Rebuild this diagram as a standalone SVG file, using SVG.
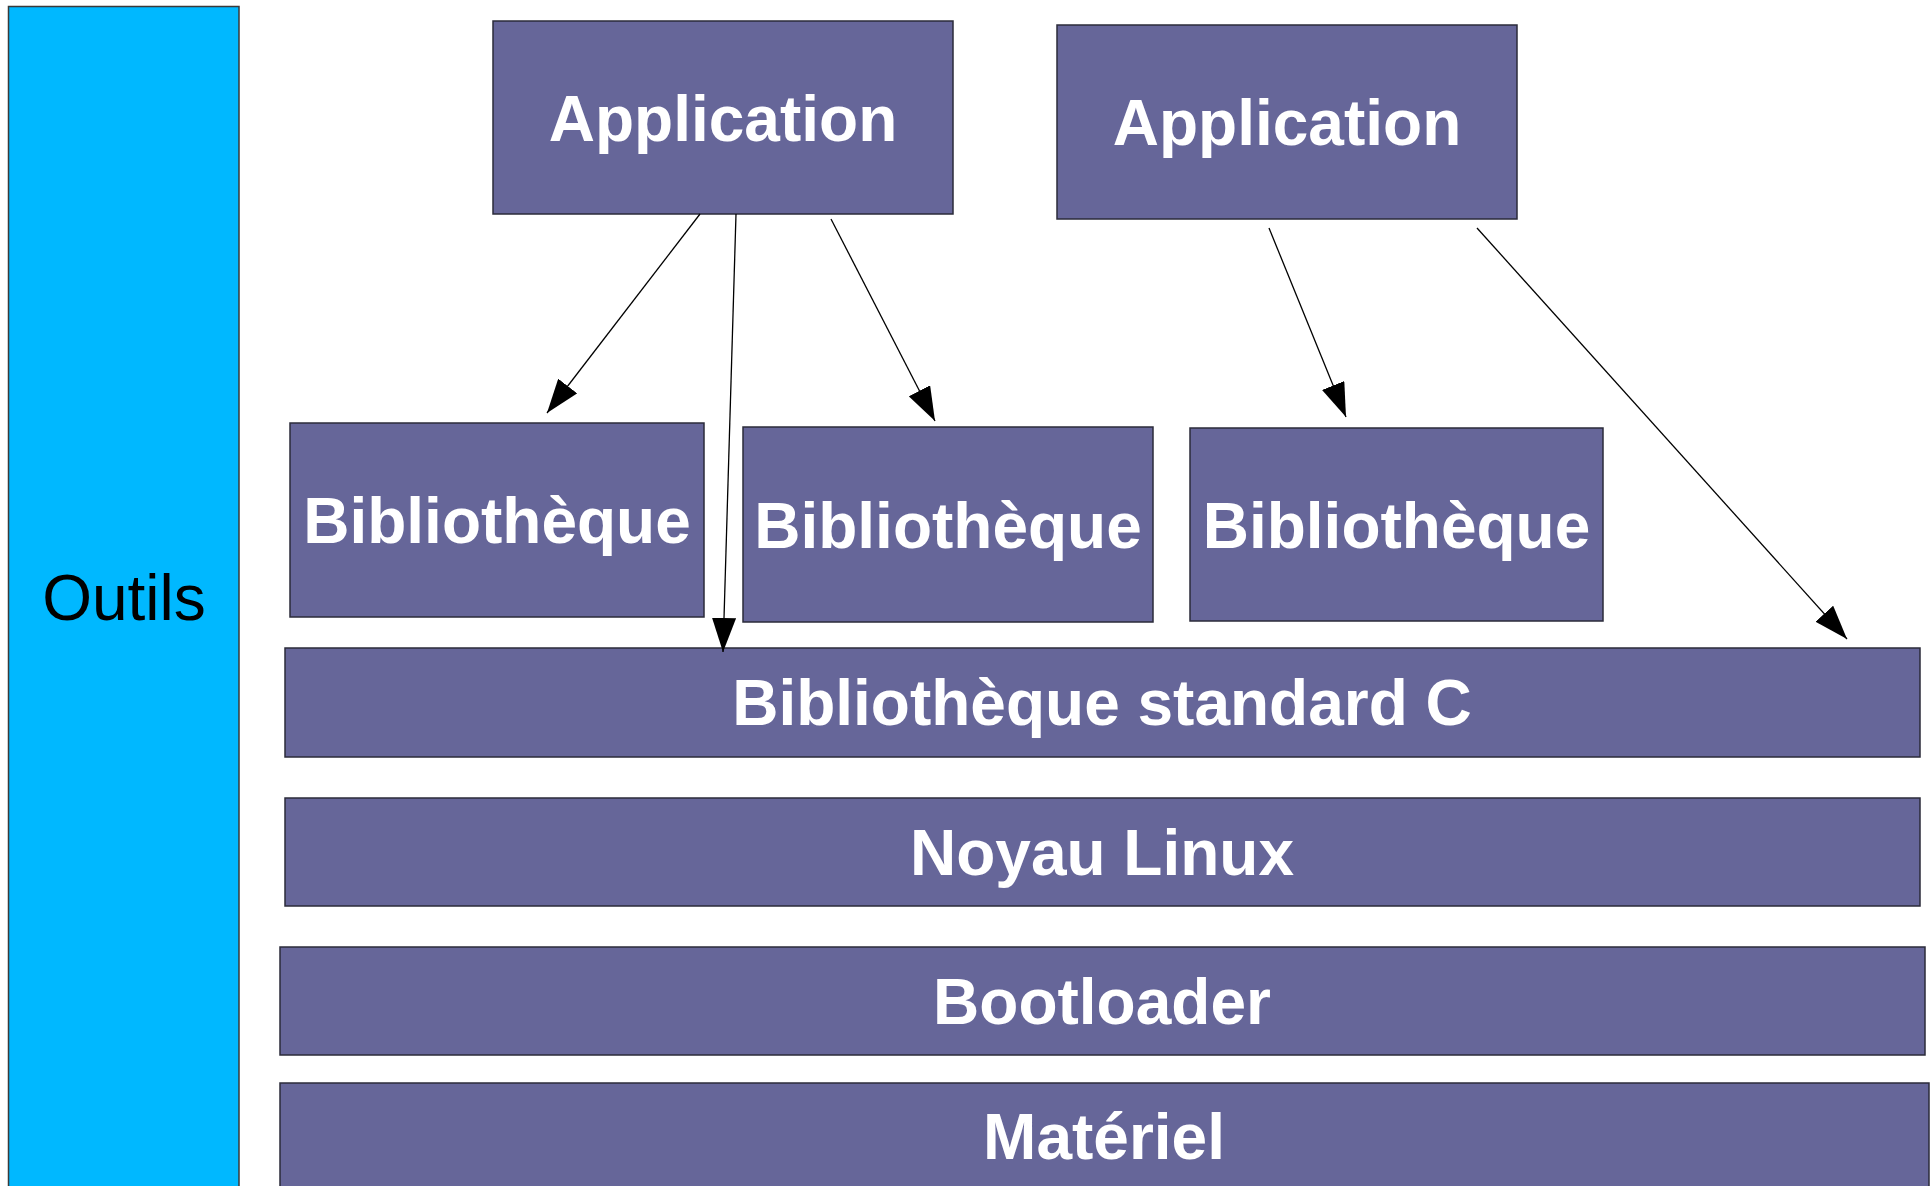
<svg xmlns="http://www.w3.org/2000/svg" width="1932" height="1186" viewBox="0 0 1932 1186">
<style>
.box{fill:#666699;stroke:#2b2b3a;stroke-width:1.5}
.tool{fill:#00b8ff;stroke:#3a3a3a;stroke-width:1.5}
.lbl{font-family:"Liberation Sans",Arial,sans-serif;font-weight:bold;font-size:64px;fill:#ffffff;text-anchor:middle}
.tlbl{font-family:"Liberation Sans",Arial,sans-serif;font-size:64px;fill:#000000;text-anchor:middle}
.arr{stroke:#000000;stroke-width:1.3;fill:none;marker-end:url(#ah)}
</style>
<defs>
<marker id="ah" viewBox="0 0 34 24" refX="34" refY="12" markerWidth="34" markerHeight="24" markerUnits="userSpaceOnUse" orient="auto">
<path d="M0,0 L34,12 L0,24 Z" fill="#000000"/>
</marker>
</defs>
<rect width="1932" height="1186" fill="#ffffff"/>
<g id="outils">
<rect class="tool" x="8.5" y="6.5" width="230.5" height="1200"/>
<text class="tlbl" x="124" y="620">Outils</text>
</g>
<g id="app1">
<rect class="box" x="493" y="21" width="460" height="193"/>
<text class="lbl" x="723" y="141">Application</text>
</g>
<g id="app2">
<rect class="box" x="1057" y="25" width="460" height="194"/>
<text class="lbl" x="1287" y="145">Application</text>
</g>
<g id="biblio1">
<rect class="box" x="290" y="423" width="414" height="194"/>
<text class="lbl" x="497" y="543">Bibliothèque</text>
</g>
<g id="biblio2">
<rect class="box" x="743" y="427" width="410" height="195"/>
<text class="lbl" x="948" y="548">Bibliothèque</text>
</g>
<g id="biblio3">
<rect class="box" x="1190" y="428" width="413" height="193"/>
<text class="lbl" x="1396.5" y="548">Bibliothèque</text>
</g>
<g id="stdc">
<rect class="box" x="285" y="648" width="1635" height="109"/>
<text class="lbl" x="1102" y="725">Bibliothèque standard C</text>
</g>
<g id="noyau">
<rect class="box" x="285" y="798" width="1635" height="108"/>
<text class="lbl" x="1102" y="875">Noyau Linux</text>
</g>
<g id="bootloader">
<rect class="box" x="280" y="947" width="1645" height="108"/>
<text class="lbl" x="1102" y="1024">Bootloader</text>
</g>
<g id="materiel">
<rect class="box" x="280" y="1083" width="1649" height="120"/>
<text class="lbl" x="1104" y="1159">Matériel</text>
</g>
<g id="connectors">
<line class="arr" x1="700" y1="214" x2="547" y2="413"/>
<line class="arr" x1="736" y1="214" x2="723" y2="652"/>
<line class="arr" x1="831" y1="219" x2="935" y2="421"/>
<line class="arr" x1="1269" y1="228" x2="1346" y2="417"/>
<line class="arr" x1="1477" y1="228" x2="1847" y2="639"/>
</g>
</svg>
